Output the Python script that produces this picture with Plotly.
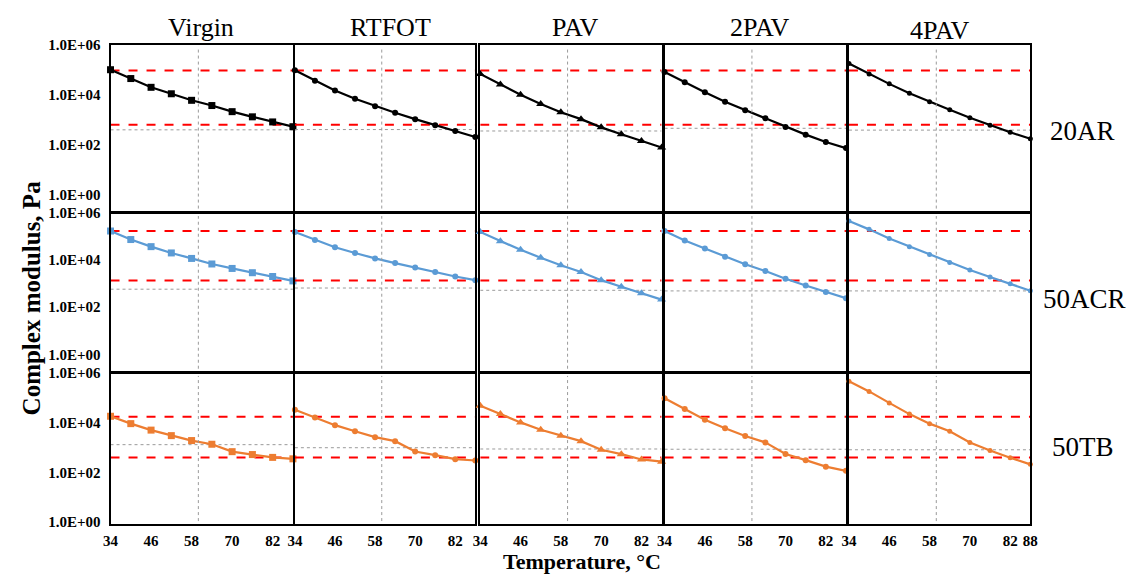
import plotly.graph_objects as go

# ---------------- data ----------------
temperatures = [34, 40, 46, 52, 58, 64, 70, 76, 82, 88]
x_ticks = [34, 46, 58, 70, 82]
x_ticks_last = [34, 46, 58, 70, 82, 88]
agings = ["Virgin", "RTFOT", "PAV", "2PAV", "4PAV"]
binders = ["20AR", "50ACR", "50TB"]
y_tick_vals = [1, 1e2, 1e4, 1e6]
y_tick_text = ["1.0E+00", "1.0E+02", "1.0E+04", "1.0E+06"]

# complex modulus, Pa
ar20_virgin = [1.02e5, 4.5e4, 2.0e4, 1.1e4, 6.0e3, 3.7e3, 2.1e3, 1.3e3, 8.1e2, 5.2e2]
ar20_rtfot = [9.8e4, 3.7e4, 1.5e4, 6.9e3, 3.5e3, 1.9e3, 1.05e3, 5.9e2, 3.5e2, 2.0e2]
ar20_pav = [6.9e4, 2.6e4, 1.0e4, 4.3e3, 2.0e3, 1.05e3, 4.9e2, 2.6e2, 1.4e2, 76]
ar20_2pav = [8.3e4, 3.2e4, 1.26e4, 5.2e3, 2.4e3, 1.15e3, 5.1e2, 2.5e2, 1.26e2, 72]
ar20_4pav = [1.8e5, 6.9e4, 2.75e4, 1.15e4, 5.2e3, 2.5e3, 1.2e3, 5.9e2, 3.1e2, 1.7e2]

acr50_virgin = [1.7e5, 7.4e4, 3.7e4, 2.0e4, 1.17e4, 6.8e3, 4.4e3, 2.9e3, 2.0e3, 1.3e3]
acr50_rtfot = [1.55e5, 7.1e4, 3.5e4, 2.0e4, 1.17e4, 7.4e3, 4.8e3, 3.1e3, 2.0e3, 1.4e3]
acr50_pav = [1.55e5, 6.3e4, 2.7e4, 1.26e4, 6.0e3, 3.1e3, 1.4e3, 7.4e2, 3.9e2, 2.1e2]
acr50_2pav = [1.7e5, 6.8e4, 3.1e4, 1.38e4, 6.6e3, 3.4e3, 1.6e3, 8.3e2, 4.4e2, 2.4e2]
acr50_4pav = [4.5e5, 2.0e5, 8.1e4, 3.7e4, 1.7e4, 7.9e3, 3.8e3, 1.9e3, 9.8e2, 5.0e2]

tb50_virgin = [1.8e4, 9.1e3, 5.0e3, 3.0e3, 1.9e3, 1.35e3, 6.8e2, 5.2e2, 4.0e2, 3.5e2]
tb50_rtfot = [3.3e4, 1.6e4, 7.9e3, 4.5e3, 2.6e3, 1.8e3, 6.9e2, 4.9e2, 3.4e2, 3.0e2]
tb50_pav = [4.8e4, 2.2e4, 1.02e4, 5.2e3, 3.0e3, 1.8e3, 8.1e2, 5.4e2, 3.3e2, 2.7e2]
tb50_2pav = [9.5e4, 3.5e4, 1.3e4, 5.9e3, 2.9e3, 1.6e3, 5.5e2, 3.1e2, 1.7e2, 1.15e2]
tb50_4pav = [4.6e5, 1.8e5, 6.2e4, 2.2e4, 9.1e3, 4.5e3, 1.6e3, 7.6e2, 3.9e2, 2.1e2]

# red dashed reference levels per binder (upper, lower)
ar20_limits = [9.5e4, 6.3e2]
acr50_limits = [1.7e5, 1.35e3]
tb50_limits = [1.74e4, 4.0e2]

# grey dotted reference level per panel
ar20_grey = [3.9e2, 4.0e2, 3.5e2, 4.5e2, 3.8e2]
acr50_grey = [5.8e2, 6.5e2, 5.2e2, 4.9e2, 4.9e2]
tb50_grey = [1.3e3, 9.8e2, 8.7e2, 8.5e2, 8.1e2]

grid_temperature = 60

series = [
    [ar20_virgin, ar20_rtfot, ar20_pav, ar20_2pav, ar20_4pav],
    [acr50_virgin, acr50_rtfot, acr50_pav, acr50_2pav, acr50_4pav],
    [tb50_virgin, tb50_rtfot, tb50_pav, tb50_2pav, tb50_4pav],
]
limits = [ar20_limits, acr50_limits, tb50_limits]
greys = [ar20_grey, acr50_grey, tb50_grey]

# ---------------- styling / layout ----------------
W, H = 1132, 574
FONT = "Times New Roman, Liberation Serif, serif"
colors = ["#000000", "#5B9BD5", "#ED7D31"]
symbols = ["square", "circle", "triangle-up", "circle", "circle"]
msizes = [7, 6, 8, 6, 5]

col_px = [(104, 289), (291, 474), (479, 663), (666, 850), (853, 1037)]
row_px = [(38, 209), (210, 373), (374, 529)]
row_range = [[-0.71, 6], [-0.745, 6], [-0.08, 6]]

fig = go.Figure()
layout = {}

for r in range(3):
    for c in range(5):
        k = r * 5 + c + 1
        xa = "x" if k == 1 else f"x{k}"
        ya = "y" if k == 1 else f"y{k}"
        xkey = "xaxis" if k == 1 else f"xaxis{k}"
        ykey = "yaxis" if k == 1 else f"yaxis{k}"
        x0p, x1p = col_px[c]
        t, b = row_px[r]
        bottom = r == 2
        layout[xkey] = dict(
            domain=[x0p / W, x1p / W], anchor=ya, range=[34, 88],
            showline=True, mirror=True, linecolor="black", linewidth=2,
            showgrid=False, zeroline=False, ticks="",
            tickvals=(x_ticks_last if c == 4 else x_ticks) if bottom else [],
            showticklabels=bottom, ticklabelstandoff=2,
            tickfont=dict(family=FONT, size=15, color="black", weight="bold"),
        )
        layout[ykey] = dict(
            domain=[1 - b / H, 1 - t / H], anchor=xa, type="log",
            range=row_range[r],
            showline=True, mirror=True, linecolor="black", linewidth=2,
            showgrid=False, zeroline=False, ticks="",
            tickvals=y_tick_vals, ticktext=y_tick_text,
            showticklabels=(c == 0), ticklabelstandoff=5,
            tickfont=dict(family=FONT, size=15, color="black", weight="bold"),
        )
        # grey dotted reference
        fig.add_trace(go.Scatter(
            x=[temperatures[0], temperatures[-1]], y=[greys[r][c]] * 2,
            mode="lines", line=dict(color="#9a9a9a", width=1, dash="dot"),
            xaxis=xa, yaxis=ya, hoverinfo="skip", showlegend=False))
        # vertical dotted grid line
        fig.add_shape(type="line", xref=xa, yref=f"{ya} domain",
                      x0=grid_temperature, x1=grid_temperature, y0=0.02, y1=0.98,
                      line=dict(color="#9a9a9a", width=1, dash="dot"))
        # red dashed limits
        for lv in limits[r]:
            fig.add_trace(go.Scatter(
                x=[temperatures[0], temperatures[-1]], y=[lv, lv],
                mode="lines", line=dict(color="#FF0000", width=2, dash="dash"),
                xaxis=xa, yaxis=ya, hoverinfo="skip", showlegend=False,
                cliponaxis=False))
        # data series
        fig.add_trace(go.Scatter(
            x=temperatures, y=series[r][c], mode="lines+markers",
            line=dict(color=colors[r], width=2.2),
            marker=dict(symbol=symbols[c], size=msizes[c], color=colors[r]),
            xaxis=xa, yaxis=ya, showlegend=False, cliponaxis=False,
            name=f"{binders[r]} {agings[c]}"))

annotations = []
title_x = [196, 388, 575, 762, 945]
title_y = [20, 20, 20, 20, 23]
for c in range(5):
    annotations.append(dict(text=agings[c], x=title_x[c] / W, y=1 - title_y[c] / H,
                            xref="paper", yref="paper", showarrow=False,
                            xanchor="center", yanchor="middle",
                            font=dict(family=FONT, size=26, color="black")))
label_x = [1090, 1092, 1090]
label_y = [126, 298, 450]
for r in range(3):
    annotations.append(dict(text=binders[r], x=label_x[r] / W, y=1 - label_y[r] / H,
                            xref="paper", yref="paper", showarrow=False,
                            xanchor="center", yanchor="middle",
                            font=dict(family=FONT, size=27, color="black")))
annotations.append(dict(text="Temperature, \u00b0C", x=582 / W, y=1 - 567 / H,
                        xref="paper", yref="paper", showarrow=False,
                        xanchor="center", yanchor="middle",
                        font=dict(family=FONT, size=22, color="black", weight="bold")))
annotations.append(dict(text="Complex modulus, Pa", x=24 / W, y=1 - 297 / H,
                        xref="paper", yref="paper", showarrow=False, textangle=-90,
                        xanchor="center", yanchor="middle",
                        font=dict(family=FONT, size=25, color="black", weight="bold")))

fig.update_layout(
    width=W, height=H, margin=dict(l=0, r=0, t=0, b=0),
    paper_bgcolor="white", plot_bgcolor="white",
    showlegend=False, annotations=annotations, **layout)

fig.write_html("out.html")
